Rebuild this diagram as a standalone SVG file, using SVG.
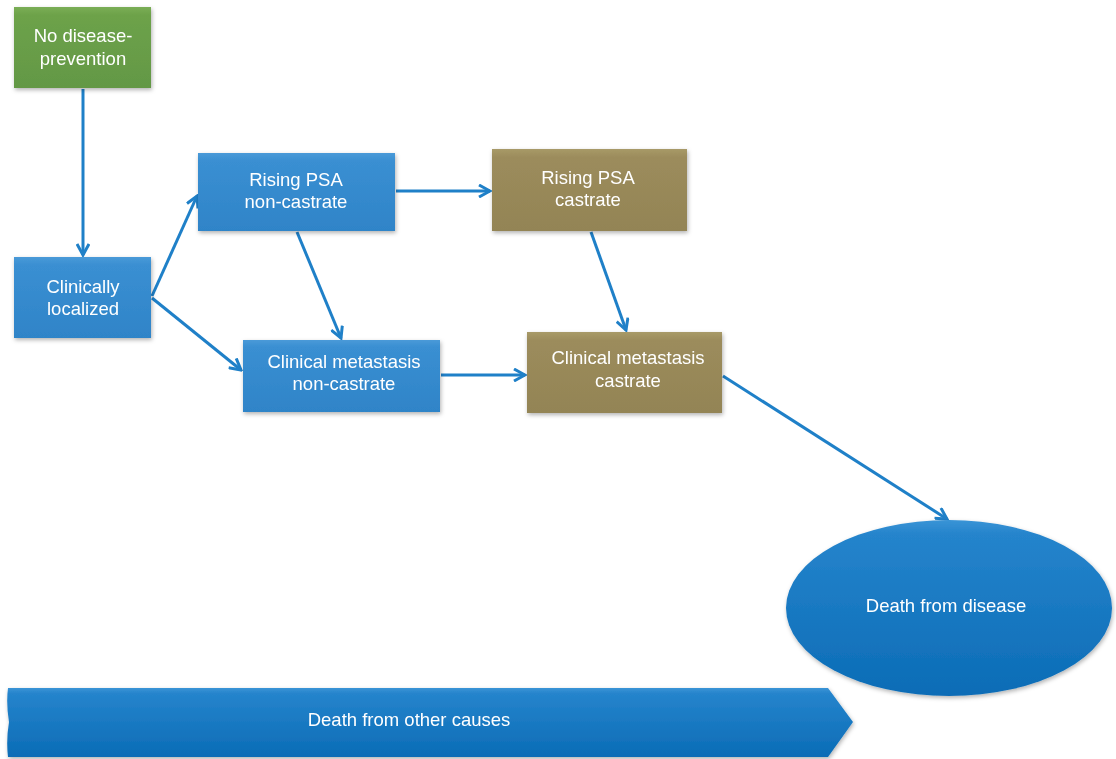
<svg xmlns="http://www.w3.org/2000/svg" width="1116" height="759" viewBox="0 0 1116 759">
<style>
text{font-family:"Liberation Sans",Arial,sans-serif;font-size:18.5px;fill:#ffffff;text-anchor:middle}
.blue{fill:url(#gBlue)}
.olive{fill:url(#gOlive)}
.green{fill:url(#gGreen)}
.conn{stroke:#1f80c8;stroke-width:3;fill:none;marker-end:url(#ah)}
</style>
<defs>
<linearGradient id="gBlue" x1="0" y1="0" x2="0" y2="1"><stop offset="0" stop-color="#4a9ad8"/><stop offset="0.1" stop-color="#3a8fd2"/><stop offset="1" stop-color="#2f84c8"/></linearGradient>
<linearGradient id="gOlive" x1="0" y1="0" x2="0" y2="1"><stop offset="0" stop-color="#a89a68"/><stop offset="0.1" stop-color="#9c8c5c"/><stop offset="1" stop-color="#938455"/></linearGradient>
<linearGradient id="gGreen" x1="0" y1="0" x2="0" y2="1"><stop offset="0" stop-color="#7aae55"/><stop offset="0.1" stop-color="#6da24a"/><stop offset="1" stop-color="#639845"/></linearGradient>
<linearGradient id="gDeep" x1="0" y1="0" x2="0" y2="1"><stop offset="0" stop-color="#3a94d6"/><stop offset="0.08" stop-color="#2584cc"/><stop offset="1" stop-color="#0b6cb6"/></linearGradient>
<filter id="sh" x="-10%" y="-10%" width="125%" height="130%"><feDropShadow dx="1" dy="2" stdDeviation="2" flood-color="#000" flood-opacity="0.3"/></filter>
<marker id="ah" markerWidth="14" markerHeight="14" viewBox="0 0 14 14" refX="12" refY="7" orient="auto" markerUnits="userSpaceOnUse"><path d="M1,1 L12,7 L1,13" fill="none" stroke="#1f80c8" stroke-width="3"/></marker>
</defs>
<rect width="1116" height="759" fill="#ffffff"/>
<g id="connectors">
<line class="conn" x1="83" y1="89" x2="83" y2="255"/>
<line class="conn" x1="152" y1="296" x2="197" y2="196"/>
<line class="conn" x1="152" y1="298" x2="241" y2="370"/>
<line class="conn" x1="297" y1="232" x2="341" y2="338"/>
<line class="conn" x1="396" y1="191" x2="490" y2="191"/>
<line class="conn" x1="591" y1="232" x2="626" y2="330"/>
<line class="conn" x1="441" y1="375" x2="525" y2="375"/>
<line class="conn" x1="723" y1="376" x2="947" y2="519"/>
</g>
<g id="n-prevention" filter="url(#sh)"><rect class="green" x="14" y="7" width="137" height="81"/><text x="83" y="42">No disease-</text><text x="83" y="65">prevention</text></g>
<g id="n-localized" filter="url(#sh)"><rect class="blue" x="14" y="257" width="137" height="81"/><text x="83" y="293">Clinically</text><text x="83" y="315">localized</text></g>
<g id="n-psa-nc" filter="url(#sh)"><rect class="blue" x="198" y="153" width="197" height="78"/><text x="296" y="186">Rising PSA</text><text x="296" y="208">non-castrate</text></g>
<g id="n-met-nc" filter="url(#sh)"><rect class="blue" x="243" y="340" width="197" height="72"/><text x="344" y="368">Clinical metastasis</text><text x="344" y="390">non-castrate</text></g>
<g id="n-psa-c" filter="url(#sh)"><rect class="olive" x="492" y="149" width="195" height="82"/><text x="588" y="184">Rising PSA</text><text x="588" y="206">castrate</text></g>
<g id="n-met-c" filter="url(#sh)"><rect class="olive" x="527" y="332" width="195" height="81"/><text x="628" y="364">Clinical metastasis</text><text x="628" y="387">castrate</text></g>
<g id="n-death-disease" filter="url(#sh)"><ellipse cx="949" cy="608" rx="163" ry="88" fill="url(#gDeep)"/><text x="946" y="612">Death from disease</text></g>
<g id="n-death-other" filter="url(#sh)"><path d="M8,688 L828,688 L853,722 L828,757 L8,757 Q6,740 9,722 Q6,704 8,688 Z" fill="url(#gDeep)"/><text x="409" y="726">Death from other causes</text></g>
</svg>
